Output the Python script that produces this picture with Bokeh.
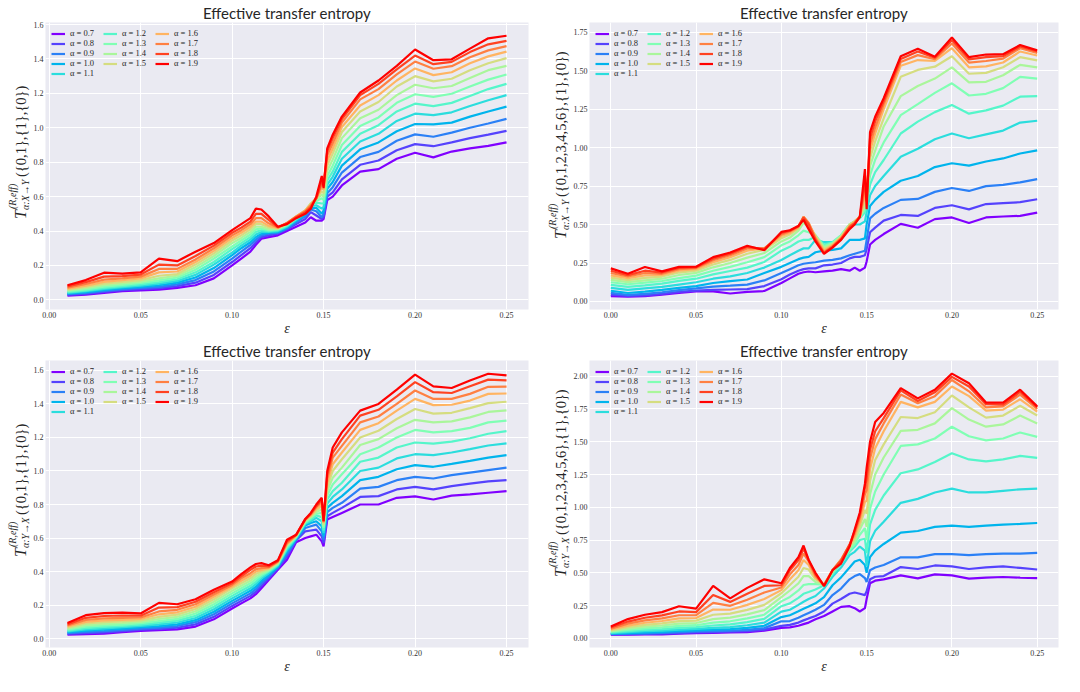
from bokeh.plotting import figure
from bokeh.layouts import gridplot
from bokeh.models import Range1d, FixedTicker, PrintfTickFormatter, Legend, LegendItem, Label
from bokeh.embed import file_html
from bokeh.resources import INLINE

ALPHAS = ["0.7", "0.8", "0.9", "1.0", "1.1", "1.2", "1.3", "1.4", "1.5", "1.6", "1.7", "1.8", "1.9"]
COLORS = ["#8000ff", "#5542fd", "#2b80f6", "#00b4ec", "#2bdddd", "#55f6ca", "#80ffb4",
          "#aaf69b", "#d5dd80", "#ffb462", "#ff8042", "#ff4221", "#ff0000"]

X_TICKS = [0.0, 0.05, 0.10, 0.15, 0.20, 0.25]
Y_TICKS_A = [0.0, 0.2, 0.4, 0.6, 0.8, 1.0, 1.2, 1.4, 1.6]
Y_TICKS_B = [0.0, 0.25, 0.5, 0.75, 1.0, 1.25, 1.5, 1.75]
Y_TICKS_C = [0.0, 0.25, 0.5, 0.75, 1.0, 1.25, 1.5, 1.75, 2.0]

# epsilon values (panels on the left start at 0.01, panels on the right at 0.00)
EPS_A = [0.01, 0.02, 0.03, 0.04, 0.05, 0.06, 0.07, 0.08, 0.09, 0.10, 0.105, 0.11, 0.113, 0.116,
         0.12, 0.125, 0.13, 0.135, 0.14, 0.143, 0.146, 0.149, 0.15, 0.152, 0.155, 0.16,
         0.17, 0.18, 0.19, 0.20, 0.21, 0.22, 0.23, 0.24, 0.25]
EPS_B = [0.0, 0.01, 0.02, 0.03, 0.04, 0.05, 0.06, 0.07, 0.08, 0.09, 0.10, 0.105, 0.11, 0.113, 0.116,
         0.12, 0.125, 0.13, 0.135, 0.14, 0.143, 0.146, 0.149, 0.15, 0.152, 0.155, 0.16,
         0.17, 0.18, 0.19, 0.20, 0.21, 0.22, 0.23, 0.24, 0.25]

# ---- panel 1: X -> Y, {0,1},{1},{0}
XY2_07 = [0.025, 0.03, 0.04, 0.05, 0.055, 0.06, 0.07, 0.085, 0.125, 0.20, 0.24, 0.28, 0.32, 0.355, 0.365, 0.375, 0.40, 0.425, 0.45, 0.48, 0.46, 0.46, 0.47, 0.58, 0.60, 0.665, 0.745, 0.76, 0.82, 0.855, 0.828, 0.862, 0.88, 0.895, 0.915]
XY2_08 = [0.029, 0.035, 0.046, 0.056, 0.062, 0.068, 0.08, 0.10, 0.145, 0.22, 0.26, 0.30, 0.335, 0.365, 0.375, 0.385, 0.41, 0.44, 0.47, 0.51, 0.49, 0.47, 0.48, 0.60, 0.625, 0.70, 0.785, 0.81, 0.87, 0.905, 0.893, 0.915, 0.94, 0.96, 0.982]
XY2_09 = [0.033, 0.04, 0.052, 0.062, 0.069, 0.076, 0.09, 0.115, 0.165, 0.24, 0.28, 0.32, 0.35, 0.375, 0.385, 0.39, 0.415, 0.45, 0.485, 0.525, 0.515, 0.48, 0.50, 0.62, 0.655, 0.74, 0.83, 0.86, 0.925, 0.962, 0.948, 0.972, 1.0, 1.025, 1.052]
XY2_10 = [0.037, 0.045, 0.058, 0.068, 0.076, 0.085, 0.10, 0.13, 0.185, 0.26, 0.30, 0.335, 0.365, 0.385, 0.39, 0.395, 0.42, 0.46, 0.495, 0.535, 0.535, 0.50, 0.52, 0.645, 0.685, 0.78, 0.875, 0.915, 0.98, 1.022, 1.02, 1.03, 1.065, 1.095, 1.123]
XY2_11 = [0.041, 0.05, 0.064, 0.074, 0.083, 0.094, 0.11, 0.145, 0.205, 0.275, 0.315, 0.35, 0.38, 0.395, 0.395, 0.40, 0.425, 0.465, 0.505, 0.545, 0.55, 0.53, 0.54, 0.67, 0.715, 0.82, 0.92, 0.965, 1.04, 1.082, 1.074, 1.09, 1.127, 1.16, 1.19]
XY2_12 = [0.045, 0.055, 0.07, 0.08, 0.09, 0.103, 0.12, 0.16, 0.22, 0.295, 0.33, 0.365, 0.395, 0.405, 0.40, 0.405, 0.43, 0.47, 0.51, 0.55, 0.565, 0.56, 0.56, 0.695, 0.745, 0.86, 0.965, 1.015, 1.095, 1.14, 1.126, 1.145, 1.185, 1.225, 1.255]
XY2_13 = [0.05, 0.061, 0.077, 0.087, 0.098, 0.113, 0.13, 0.175, 0.24, 0.31, 0.345, 0.38, 0.41, 0.415, 0.405, 0.41, 0.435, 0.475, 0.515, 0.555, 0.575, 0.59, 0.58, 0.72, 0.78, 0.90, 1.01, 1.06, 1.145, 1.195, 1.18, 1.198, 1.24, 1.28, 1.31]
XY2_14 = [0.055, 0.068, 0.085, 0.095, 0.106, 0.125, 0.14, 0.19, 0.255, 0.33, 0.36, 0.395, 0.425, 0.425, 0.41, 0.412, 0.44, 0.48, 0.52, 0.56, 0.585, 0.61, 0.60, 0.75, 0.815, 0.94, 1.055, 1.105, 1.19, 1.25, 1.23, 1.243, 1.29, 1.335, 1.36]
XY2_15 = [0.06, 0.075, 0.094, 0.104, 0.115, 0.14, 0.15, 0.205, 0.27, 0.345, 0.375, 0.41, 0.44, 0.44, 0.42, 0.415, 0.445, 0.485, 0.52, 0.56, 0.59, 0.63, 0.62, 0.78, 0.85, 0.975, 1.095, 1.15, 1.24, 1.30, 1.27, 1.285, 1.335, 1.375, 1.405]
XY2_16 = [0.065, 0.083, 0.105, 0.114, 0.125, 0.16, 0.165, 0.22, 0.285, 0.36, 0.39, 0.425, 0.455, 0.455, 0.43, 0.418, 0.447, 0.485, 0.52, 0.555, 0.59, 0.65, 0.64, 0.81, 0.88, 1.005, 1.13, 1.19, 1.275, 1.345, 1.306, 1.323, 1.375, 1.415, 1.443]
XY2_17 = [0.071, 0.092, 0.118, 0.125, 0.135, 0.18, 0.18, 0.235, 0.30, 0.375, 0.405, 0.44, 0.475, 0.475, 0.445, 0.42, 0.447, 0.483, 0.515, 0.55, 0.59, 0.67, 0.66, 0.84, 0.91, 1.03, 1.165, 1.225, 1.31, 1.385, 1.343, 1.358, 1.41, 1.45, 1.475]
XY2_18 = [0.078, 0.103, 0.135, 0.138, 0.147, 0.205, 0.20, 0.255, 0.315, 0.39, 0.42, 0.455, 0.50, 0.50, 0.465, 0.422, 0.445, 0.48, 0.51, 0.54, 0.59, 0.69, 0.67, 0.865, 0.94, 1.05, 1.19, 1.255, 1.34, 1.42, 1.37, 1.383, 1.44, 1.485, 1.505]
XY2_19 = [0.085, 0.115, 0.158, 0.153, 0.16, 0.24, 0.225, 0.28, 0.33, 0.405, 0.44, 0.475, 0.53, 0.525, 0.485, 0.425, 0.44, 0.475, 0.50, 0.53, 0.60, 0.72, 0.65, 0.88, 0.96, 1.065, 1.205, 1.275, 1.36, 1.455, 1.393, 1.398, 1.46, 1.52, 1.535]

# ---- panel 2: X -> Y, {0,...,6},{1},{0}
XY7_07 = [0.035, 0.032, 0.035, 0.045, 0.056, 0.066, 0.066, 0.052, 0.062, 0.068, 0.12, 0.15, 0.18, 0.19, 0.195, 0.19, 0.195, 0.20, 0.21, 0.20, 0.22, 0.20, 0.22, 0.26, 0.37, 0.40, 0.438, 0.504, 0.479, 0.535, 0.546, 0.51, 0.546, 0.552, 0.556, 0.577]
XY7_08 = [0.045, 0.036, 0.04, 0.05, 0.062, 0.07, 0.075, 0.078, 0.08, 0.10, 0.145, 0.175, 0.20, 0.21, 0.215, 0.215, 0.235, 0.24, 0.25, 0.28, 0.29, 0.29, 0.30, 0.34, 0.45, 0.48, 0.525, 0.562, 0.556, 0.608, 0.625, 0.598, 0.633, 0.639, 0.645, 0.664]
XY7_09 = [0.056, 0.043, 0.05, 0.06, 0.074, 0.085, 0.097, 0.103, 0.11, 0.137, 0.185, 0.21, 0.235, 0.245, 0.25, 0.255, 0.265, 0.27, 0.28, 0.30, 0.31, 0.32, 0.33, 0.40, 0.54, 0.57, 0.608, 0.66, 0.666, 0.712, 0.737, 0.718, 0.749, 0.757, 0.774, 0.795]
XY7_10 = [0.07, 0.055, 0.064, 0.075, 0.088, 0.10, 0.12, 0.132, 0.143, 0.185, 0.225, 0.25, 0.275, 0.285, 0.29, 0.32, 0.33, 0.335, 0.345, 0.40, 0.40, 0.40, 0.41, 0.50, 0.62, 0.66, 0.712, 0.784, 0.815, 0.873, 0.898, 0.882, 0.909, 0.929, 0.961, 0.981]
XY7_11 = [0.088, 0.075, 0.085, 0.095, 0.11, 0.125, 0.148, 0.163, 0.185, 0.22, 0.27, 0.30, 0.33, 0.345, 0.345, 0.40, 0.385, 0.385, 0.40, 0.49, 0.50, 0.50, 0.52, 0.58, 0.69, 0.75, 0.815, 0.94, 0.992, 1.054, 1.091, 1.06, 1.085, 1.11, 1.162, 1.174]
XY7_12 = [0.108, 0.095, 0.105, 0.116, 0.134, 0.148, 0.176, 0.198, 0.22, 0.257, 0.33, 0.355, 0.39, 0.40, 0.40, 0.42, 0.37, 0.385, 0.43, 0.50, 0.52, 0.54, 0.58, 0.63, 0.76, 0.84, 0.919, 1.091, 1.168, 1.23, 1.276, 1.22, 1.241, 1.272, 1.33, 1.334]
XY7_13 = [0.125, 0.112, 0.122, 0.133, 0.152, 0.168, 0.2, 0.225, 0.255, 0.288, 0.365, 0.39, 0.43, 0.46, 0.45, 0.43, 0.36, 0.38, 0.43, 0.50, 0.52, 0.55, 0.60, 0.66, 0.82, 0.92, 1.033, 1.21, 1.282, 1.355, 1.417, 1.338, 1.349, 1.386, 1.459, 1.448]
XY7_14 = [0.14, 0.126, 0.137, 0.148, 0.172, 0.186, 0.222, 0.25, 0.285, 0.315, 0.39, 0.415, 0.46, 0.51, 0.485, 0.43, 0.35, 0.375, 0.425, 0.50, 0.52, 0.55, 0.62, 0.68, 0.88, 0.98, 1.137, 1.334, 1.40, 1.448, 1.521, 1.423, 1.427, 1.469, 1.537, 1.521]
XY7_15 = [0.155, 0.139, 0.153, 0.162, 0.188, 0.2, 0.24, 0.27, 0.31, 0.335, 0.41, 0.435, 0.475, 0.54, 0.50, 0.425, 0.34, 0.37, 0.42, 0.50, 0.52, 0.55, 0.64, 0.70, 0.93, 1.04, 1.19, 1.459, 1.504, 1.525, 1.593, 1.479, 1.485, 1.521, 1.587, 1.566]
XY7_16 = [0.17, 0.152, 0.17, 0.172, 0.2, 0.21, 0.255, 0.287, 0.33, 0.345, 0.425, 0.445, 0.48, 0.55, 0.51, 0.42, 0.33, 0.365, 0.415, 0.49, 0.52, 0.55, 0.68, 0.70, 0.98, 1.09, 1.25, 1.531, 1.568, 1.562, 1.645, 1.521, 1.527, 1.552, 1.624, 1.598]
XY7_17 = [0.185, 0.163, 0.185, 0.18, 0.21, 0.217, 0.268, 0.30, 0.345, 0.345, 0.435, 0.455, 0.485, 0.55, 0.51, 0.41, 0.32, 0.36, 0.41, 0.49, 0.51, 0.55, 0.72, 0.68, 1.02, 1.13, 1.28, 1.555, 1.60, 1.573, 1.676, 1.552, 1.562, 1.577, 1.645, 1.614]
XY7_18 = [0.20, 0.171, 0.2, 0.188, 0.218, 0.222, 0.278, 0.31, 0.355, 0.34, 0.445, 0.46, 0.49, 0.545, 0.50, 0.40, 0.315, 0.355, 0.405, 0.48, 0.51, 0.55, 0.78, 0.65, 1.06, 1.17, 1.30, 1.575, 1.624, 1.583, 1.697, 1.573, 1.587, 1.593, 1.656, 1.624]
XY7_19 = [0.215, 0.18, 0.224, 0.196, 0.225, 0.226, 0.288, 0.318, 0.362, 0.333, 0.452, 0.463, 0.49, 0.53, 0.47, 0.39, 0.31, 0.35, 0.40, 0.47, 0.50, 0.55, 0.86, 0.60, 1.10, 1.20, 1.32, 1.593, 1.641, 1.59, 1.714, 1.587, 1.604, 1.606, 1.666, 1.631]

# ---- panel 3: Y -> X, {0,1},{1},{0}
YX2_07 = [0.023, 0.027, 0.03, 0.038, 0.046, 0.05, 0.055, 0.072, 0.115, 0.18, 0.21, 0.24, 0.265, 0.30, 0.35, 0.41, 0.47, 0.575, 0.60, 0.61, 0.62, 0.58, 0.55, 0.71, 0.725, 0.75, 0.80, 0.80, 0.84, 0.848, 0.83, 0.853, 0.86, 0.87, 0.88]
YX2_08 = [0.028, 0.033, 0.037, 0.045, 0.053, 0.058, 0.065, 0.085, 0.13, 0.195, 0.225, 0.255, 0.28, 0.315, 0.36, 0.42, 0.49, 0.585, 0.64, 0.645, 0.65, 0.61, 0.57, 0.73, 0.75, 0.78, 0.845, 0.85, 0.89, 0.905, 0.89, 0.91, 0.925, 0.938, 0.945]
YX2_09 = [0.033, 0.04, 0.045, 0.052, 0.06, 0.066, 0.075, 0.098, 0.145, 0.21, 0.24, 0.27, 0.295, 0.33, 0.37, 0.425, 0.505, 0.59, 0.66, 0.67, 0.68, 0.64, 0.59, 0.755, 0.78, 0.81, 0.895, 0.905, 0.945, 0.965, 0.955, 0.975, 0.99, 1.005, 1.02]
YX2_10 = [0.038, 0.047, 0.053, 0.06, 0.068, 0.075, 0.085, 0.11, 0.16, 0.225, 0.255, 0.285, 0.31, 0.345, 0.38, 0.43, 0.52, 0.595, 0.675, 0.69, 0.70, 0.67, 0.61, 0.78, 0.81, 0.85, 0.945, 0.965, 1.01, 1.035, 1.025, 1.042, 1.06, 1.08, 1.095]
YX2_11 = [0.043, 0.055, 0.061, 0.068, 0.076, 0.085, 0.096, 0.123, 0.175, 0.24, 0.27, 0.30, 0.325, 0.36, 0.39, 0.435, 0.53, 0.60, 0.685, 0.70, 0.72, 0.70, 0.63, 0.805, 0.845, 0.89, 1.0, 1.02, 1.075, 1.10, 1.095, 1.11, 1.13, 1.152, 1.165]
YX2_12 = [0.048, 0.063, 0.07, 0.076, 0.084, 0.095, 0.107, 0.136, 0.19, 0.255, 0.285, 0.315, 0.34, 0.37, 0.40, 0.44, 0.54, 0.603, 0.69, 0.71, 0.735, 0.725, 0.645, 0.83, 0.88, 0.93, 1.055, 1.08, 1.14, 1.17, 1.163, 1.175, 1.195, 1.222, 1.238]
YX2_13 = [0.054, 0.071, 0.079, 0.084, 0.092, 0.105, 0.118, 0.15, 0.205, 0.27, 0.30, 0.33, 0.355, 0.38, 0.405, 0.445, 0.55, 0.606, 0.695, 0.72, 0.745, 0.75, 0.66, 0.855, 0.92, 0.98, 1.10, 1.14, 1.20, 1.245, 1.23, 1.238, 1.257, 1.29, 1.30]
YX2_14 = [0.06, 0.08, 0.088, 0.093, 0.1, 0.117, 0.13, 0.163, 0.22, 0.285, 0.315, 0.345, 0.37, 0.39, 0.41, 0.45, 0.555, 0.609, 0.70, 0.725, 0.755, 0.77, 0.67, 0.88, 0.96, 1.02, 1.155, 1.19, 1.255, 1.305, 1.29, 1.296, 1.32, 1.352, 1.362]
YX2_15 = [0.066, 0.09, 0.098, 0.102, 0.108, 0.13, 0.143, 0.177, 0.235, 0.30, 0.33, 0.36, 0.385, 0.40, 0.415, 0.453, 0.56, 0.612, 0.705, 0.73, 0.765, 0.79, 0.68, 0.905, 1.0, 1.07, 1.20, 1.24, 1.31, 1.37, 1.342, 1.347, 1.375, 1.405, 1.413]
YX2_16 = [0.072, 0.1, 0.109, 0.112, 0.117, 0.145, 0.157, 0.19, 0.25, 0.31, 0.345, 0.375, 0.40, 0.41, 0.42, 0.457, 0.565, 0.615, 0.71, 0.735, 0.775, 0.80, 0.69, 0.93, 1.04, 1.11, 1.245, 1.285, 1.36, 1.43, 1.393, 1.395, 1.42, 1.46, 1.462]
YX2_17 = [0.078, 0.111, 0.121, 0.124, 0.126, 0.162, 0.172, 0.205, 0.263, 0.32, 0.36, 0.39, 0.415, 0.42, 0.425, 0.46, 0.57, 0.617, 0.71, 0.74, 0.785, 0.815, 0.695, 0.955, 1.08, 1.15, 1.29, 1.325, 1.40, 1.48, 1.43, 1.43, 1.46, 1.502, 1.503]
YX2_18 = [0.085, 0.124, 0.135, 0.138, 0.137, 0.185, 0.188, 0.22, 0.277, 0.33, 0.372, 0.41, 0.43, 0.435, 0.43, 0.463, 0.58, 0.619, 0.712, 0.745, 0.79, 0.83, 0.70, 0.98, 1.11, 1.19, 1.33, 1.365, 1.445, 1.53, 1.47, 1.465, 1.505, 1.545, 1.54]
YX2_19 = [0.093, 0.14, 0.152, 0.155, 0.15, 0.213, 0.205, 0.235, 0.292, 0.34, 0.385, 0.425, 0.445, 0.45, 0.438, 0.467, 0.59, 0.62, 0.714, 0.75, 0.80, 0.84, 0.70, 1.0, 1.14, 1.23, 1.36, 1.40, 1.485, 1.575, 1.505, 1.495, 1.54, 1.58, 1.57]

# ---- panel 4: Y -> X, {0,...,6},{1},{0}
YX7_07 = [0.028, 0.029, 0.03, 0.03, 0.035, 0.04, 0.042, 0.045, 0.048, 0.058, 0.08, 0.083, 0.096, 0.108, 0.12, 0.145, 0.17, 0.205, 0.24, 0.245, 0.23, 0.205, 0.23, 0.30, 0.42, 0.44, 0.45, 0.48, 0.458, 0.488, 0.48, 0.456, 0.463, 0.468, 0.463, 0.46]
YX7_08 = [0.03, 0.031, 0.033, 0.035, 0.04, 0.045, 0.047, 0.05, 0.055, 0.066, 0.095, 0.103, 0.12, 0.137, 0.152, 0.17, 0.205, 0.265, 0.30, 0.34, 0.35, 0.34, 0.33, 0.36, 0.45, 0.47, 0.475, 0.544, 0.529, 0.556, 0.549, 0.529, 0.542, 0.549, 0.537, 0.525]
YX7_09 = [0.033, 0.035, 0.038, 0.041, 0.047, 0.052, 0.055, 0.058, 0.065, 0.078, 0.13, 0.132, 0.157, 0.176, 0.194, 0.218, 0.255, 0.33, 0.38, 0.45, 0.475, 0.49, 0.46, 0.43, 0.52, 0.54, 0.56, 0.618, 0.618, 0.642, 0.642, 0.635, 0.642, 0.647, 0.647, 0.652]
YX7_10 = [0.036, 0.04, 0.045, 0.049, 0.056, 0.061, 0.066, 0.07, 0.08, 0.096, 0.162, 0.176, 0.206, 0.225, 0.243, 0.267, 0.315, 0.405, 0.465, 0.54, 0.586, 0.60, 0.56, 0.50, 0.62, 0.67, 0.72, 0.806, 0.819, 0.85, 0.86, 0.85, 0.86, 0.868, 0.873, 0.88]
YX7_11 = [0.04, 0.047, 0.054, 0.059, 0.067, 0.072, 0.08, 0.086, 0.1, 0.12, 0.204, 0.218, 0.255, 0.279, 0.30, 0.323, 0.38, 0.47, 0.54, 0.635, 0.66, 0.70, 0.67, 0.55, 0.74, 0.82, 0.89, 1.034, 1.064, 1.113, 1.142, 1.113, 1.113, 1.125, 1.137, 1.142]
YX7_12 = [0.045, 0.055, 0.064, 0.07, 0.08, 0.085, 0.098, 0.106, 0.124, 0.148, 0.245, 0.267, 0.309, 0.34, 0.353, 0.373, 0.405, 0.49, 0.57, 0.66, 0.70, 0.75, 0.76, 0.65, 0.87, 0.98, 1.09, 1.26, 1.289, 1.346, 1.412, 1.365, 1.35, 1.365, 1.392, 1.377]
YX7_13 = [0.05, 0.064, 0.076, 0.083, 0.095, 0.1, 0.12, 0.13, 0.152, 0.18, 0.282, 0.316, 0.365, 0.407, 0.414, 0.414, 0.41, 0.50, 0.585, 0.675, 0.72, 0.79, 0.84, 0.75, 0.99, 1.12, 1.25, 1.468, 1.48, 1.525, 1.615, 1.542, 1.51, 1.525, 1.571, 1.537]
YX7_14 = [0.055, 0.074, 0.089, 0.098, 0.112, 0.117, 0.147, 0.158, 0.183, 0.215, 0.314, 0.365, 0.42, 0.475, 0.475, 0.43, 0.41, 0.51, 0.595, 0.69, 0.74, 0.83, 0.91, 0.85, 1.10, 1.25, 1.38, 1.583, 1.591, 1.64, 1.757, 1.669, 1.615, 1.632, 1.70, 1.64]
YX7_15 = [0.06, 0.085, 0.103, 0.114, 0.131, 0.135, 0.18, 0.188, 0.217, 0.255, 0.344, 0.407, 0.47, 0.537, 0.525, 0.45, 0.41, 0.515, 0.60, 0.70, 0.76, 0.86, 0.98, 0.95, 1.20, 1.36, 1.48, 1.689, 1.681, 1.725, 1.853, 1.762, 1.684, 1.70, 1.775, 1.70]
YX7_16 = [0.067, 0.097, 0.119, 0.132, 0.152, 0.155, 0.22, 0.218, 0.255, 0.30, 0.368, 0.45, 0.52, 0.598, 0.56, 0.463, 0.41, 0.52, 0.60, 0.71, 0.78, 0.89, 1.04, 1.05, 1.29, 1.45, 1.58, 1.804, 1.762, 1.804, 1.922, 1.848, 1.738, 1.745, 1.824, 1.73]
YX7_17 = [0.074, 0.112, 0.137, 0.152, 0.176, 0.177, 0.27, 0.248, 0.295, 0.35, 0.388, 0.488, 0.56, 0.647, 0.586, 0.475, 0.405, 0.52, 0.60, 0.715, 0.80, 0.92, 1.10, 1.13, 1.37, 1.52, 1.64, 1.86, 1.794, 1.848, 1.971, 1.885, 1.762, 1.77, 1.86, 1.75]
YX7_18 = [0.082, 0.128, 0.157, 0.175, 0.205, 0.2, 0.33, 0.278, 0.34, 0.40, 0.405, 0.52, 0.598, 0.684, 0.598, 0.488, 0.40, 0.52, 0.59, 0.715, 0.82, 0.94, 1.15, 1.22, 1.44, 1.58, 1.68, 1.892, 1.811, 1.877, 1.995, 1.922, 1.787, 1.784, 1.88, 1.762]
YX7_19 = [0.091, 0.147, 0.18, 0.20, 0.245, 0.226, 0.40, 0.305, 0.385, 0.45, 0.42, 0.537, 0.62, 0.708, 0.598, 0.50, 0.40, 0.52, 0.57, 0.70, 0.83, 0.96, 1.18, 1.30, 1.50, 1.65, 1.72, 1.909, 1.831, 1.897, 2.02, 1.946, 1.799, 1.799, 1.897, 1.77]

PANEL1 = [XY2_07, XY2_08, XY2_09, XY2_10, XY2_11, XY2_12, XY2_13, XY2_14, XY2_15, XY2_16, XY2_17, XY2_18, XY2_19]
PANEL2 = [XY7_07, XY7_08, XY7_09, XY7_10, XY7_11, XY7_12, XY7_13, XY7_14, XY7_15, XY7_16, XY7_17, XY7_18, XY7_19]
PANEL3 = [YX2_07, YX2_08, YX2_09, YX2_10, YX2_11, YX2_12, YX2_13, YX2_14, YX2_15, YX2_16, YX2_17, YX2_18, YX2_19]
PANEL4 = [YX7_07, YX7_08, YX7_09, YX7_10, YX7_11, YX7_12, YX7_13, YX7_14, YX7_15, YX7_16, YX7_17, YX7_18, YX7_19]

SERIF = "Liberation Serif"
TXT = "#262626"
FIG_H = 338
BORDER_TOP = 20
BORDER_BOTTOM = 27


def label_strip(width, sub, body, y0, base):
    """Narrow figure that carries the rotated y-axis label T^{(R,eff)}_{sub}(body)."""
    s = figure(width=width, height=FIG_H, output_backend="svg", toolbar_location=None,
               x_axis_location=None, y_axis_location=None, min_border=0,
               x_range=Range1d(0, 1), y_range=Range1d(0, 1),
               background_fill_color="white", border_fill_color="white",
               outline_line_color=None)
    s.grid.visible = False
    pieces = [("T", base, y0, "16px", "italic"),
              ("(R,eff)", base - 8, y0 + 10, "10px", "italic"),
              (sub, base + 5, y0 + 9, "10px", "italic"),
              (body, base, y0 + 42, "14.5px", "normal")]
    for text, x, y, size, style in pieces:
        s.add_layout(Label(x=x, y=y, x_units="screen", y_units="screen", text=text,
                           angle=90, angle_units="deg", text_font=SERIF,
                           text_font_size=size, text_font_style=style, text_color=TXT,
                           text_align="left", text_baseline="alphabetic"))
    return s


def make_panel(xs, series, xr, yr, yticks, yfmt, width, bl, br):
    p = figure(width=width, height=FIG_H, x_range=Range1d(*xr), y_range=Range1d(*yr),
               output_backend="svg", toolbar_location=None,
               min_border_left=bl, min_border_right=br,
               min_border_top=BORDER_TOP, min_border_bottom=BORDER_BOTTOM,
               background_fill_color="#EAEAF2", border_fill_color="white",
               outline_line_color=None)
    p.title.text = "Effective transfer entropy"
    p.title.align = "center"
    p.title.text_font = "Lato"
    p.title.text_font_size = "15px"
    p.title.text_font_style = "normal"
    p.title.text_color = TXT
    p.title.standoff = 2

    for ax in (p.xaxis[0], p.yaxis[0]):
        ax.axis_line_color = None
        ax.major_tick_line_color = None
        ax.minor_tick_line_color = None
        ax.major_tick_out = 0
        ax.major_tick_in = 0
        ax.major_label_text_font = SERIF
        ax.major_label_text_font_size = "8px"
        ax.major_label_text_color = "#333333"
        ax.major_label_standoff = 2
    p.xaxis[0].ticker = FixedTicker(ticks=X_TICKS)
    p.xaxis[0].formatter = PrintfTickFormatter(format="%.2f")
    p.xaxis[0].axis_label = "ε"
    p.xaxis[0].axis_label_standoff = 0
    p.xaxis[0].axis_label_text_font = SERIF
    p.xaxis[0].axis_label_text_font_size = "14px"
    p.xaxis[0].axis_label_text_font_style = "italic"
    p.xaxis[0].axis_label_text_color = TXT
    p.yaxis[0].ticker = FixedTicker(ticks=yticks)
    p.yaxis[0].formatter = PrintfTickFormatter(format=yfmt)
    p.xgrid[0].ticker = FixedTicker(ticks=X_TICKS)
    p.ygrid[0].ticker = FixedTicker(ticks=yticks)
    p.grid.grid_line_color = "white"
    p.grid.grid_line_width = 1

    rends = []
    for i, ys in enumerate(series):
        rends.append(p.line(xs, ys, line_color=COLORS[i], line_width=2.2))

    items = [LegendItem(label="α = " + ALPHAS[i], renderers=[rends[i]]) for i in range(13)]
    items = items[:9] + [LegendItem(label=" ", renderers=[])] + items[9:]
    leg = Legend(items=items, location="top_left", orientation="vertical", nrows=5,
                 glyph_width=14, glyph_height=9, label_height=9, label_width=33,
                 label_standoff=5, spacing=0, padding=2, margin=4,
                 label_text_font=SERIF, label_text_font_size="8.5px",
                 label_text_color=TXT, background_fill_alpha=0, border_line_alpha=0)
    p.add_layout(leg)
    return p


MID = BORDER_BOTTOM + (FIG_H - BORDER_TOP - BORDER_BOTTOM) / 2

l1 = label_strip(30, "α:X→Y", "({0,1},{1},{0})", MID - 82, 20)
p1 = make_panel(EPS_A, PANEL1, (-0.002, 0.262), (-0.056, 1.612), Y_TICKS_A, "%.1f", 510, 12, 12)
l2 = label_strip(30, "α:X→Y", "({0,1,2,3,4,5,6},{1},{0})", MID - 102, 20)
p2 = make_panel(EPS_B, PANEL2, (-0.0125, 0.2625), (-0.052, 1.812), Y_TICKS_B, "%.2f", 494, 14, 6)
l3 = label_strip(30, "α:Y→X", "({0,1},{1},{0})", MID - 82, 20)
p3 = make_panel(EPS_A, PANEL3, (-0.002, 0.262), (-0.053, 1.659), Y_TICKS_A, "%.1f", 510, 12, 12)
l4 = label_strip(30, "α:Y→X", "({0,1,2,3,4,5,6},{1},{0})", MID - 102, 20)
p4 = make_panel(EPS_B, PANEL4, (-0.0125, 0.2625), (-0.07, 2.12), Y_TICKS_C, "%.2f", 494, 14, 6)

grid = gridplot([[l1, p1, l2, p2], [l3, p3, l4, p4]], toolbar_location=None)

open("out.html", "w").write(file_html(grid, INLINE))
